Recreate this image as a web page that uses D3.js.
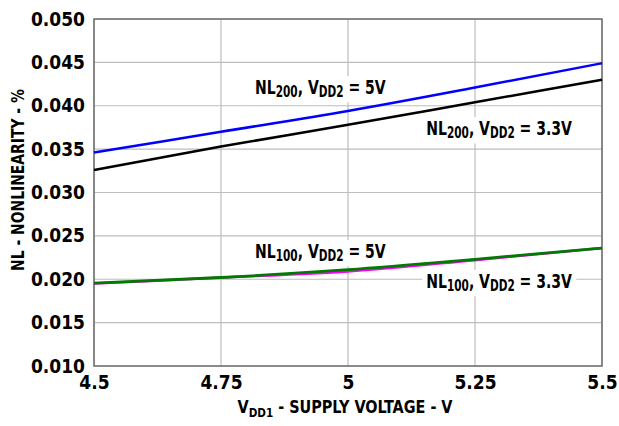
<!DOCTYPE html>
<html>
<head>
<meta charset="utf-8">
<script src="https://cdn.jsdelivr.net/npm/d3@7"></script>
<style>
  body { margin: 0; background: #fff; }
  text { font-family: 'DejaVu Sans Condensed', 'DejaVu Sans', sans-serif; font-weight: bold; fill: #000; }
</style>
</head>
<body>
<svg id="chart" width="619" height="426"></svg>
<script>
// supply voltage VDD1 (V)
const vdd1 = [4.5, 4.75, 5, 5.25, 5.5]
// nonlinearity (%)
const nl200_5v = [0.0346, 0.0370, 0.0394, 0.0421, 0.0449]
const nl200_33v = [0.0326, 0.0353, 0.0378, 0.0404, 0.0430]
const nl100_33v = [0.0195, 0.0202, 0.0209, 0.0222, 0.0236]
const nl100_5v = [0.01955, 0.0202, 0.0211, 0.0223, 0.0236]

const xTicks = [4.5, 4.75, 5, 5.25, 5.5]
const yTicks = [0.010, 0.015, 0.020, 0.025, 0.030, 0.035, 0.040, 0.045, 0.050]

const series = [
  { values: nl200_5v, color: "#0000ff", width: 2.5 },
  { values: nl200_33v, color: "#000000", width: 2.5 },
  { values: nl100_33v, color: "#ff00ff", width: 2.5 },
  { values: nl100_5v, color: "#007a00", width: 2.8 }
]

// curve labels, anchored at (x value, y value) = start of baseline
const labels = [
  { sub1: "200", tail: " = 5V", x: 4.817, y: 0.04135 },
  { sub1: "200", tail: " = 3.3V", x: 5.154, y: 0.03663 },
  { sub1: "100", tail: " = 5V", x: 4.817, y: 0.02245 },
  { sub1: "100", tail: " = 3.3V", x: 5.154, y: 0.0190 }
]

const margin = { top: 19, right: 17, bottom: 60, left: 94 }
const width = 619, height = 426
const innerW = width - margin.left - margin.right
const innerH = height - margin.top - margin.bottom

const svg = d3.select("#chart")
const g = svg.append("g").attr("transform", `translate(${margin.left},${margin.top})`)

const x = d3.scaleLinear().domain([4.5, 5.5]).range([0, innerW])
const y = d3.scaleLinear().domain([0.010, 0.050]).range([innerH, 0])

// grid
g.append("g").selectAll("line").data(xTicks).join("line")
  .attr("x1", d => x(d)).attr("x2", d => x(d))
  .attr("y1", 0).attr("y2", innerH)
  .attr("stroke", "#bdbdbd").attr("stroke-width", 1.2)
g.append("g").selectAll("line").data(yTicks).join("line")
  .attr("x1", 0).attr("x2", innerW)
  .attr("y1", d => y(d)).attr("y2", d => y(d))
  .attr("stroke", "#bdbdbd").attr("stroke-width", 1.2)

// frame
g.append("rect")
  .attr("width", innerW).attr("height", innerH)
  .attr("fill", "none").attr("stroke", "#6e6e6e").attr("stroke-width", 1.5)

const boxLayer = g.append("g")
const lineLayer = g.append("g")
const textLayer = g.append("g")

// lines
const line = d3.line().x((d, i) => x(vdd1[i])).y(d => y(d)).curve(d3.curveMonotoneX)
series.forEach(s => {
  lineLayer.append("path")
    .attr("d", line(s.values))
    .attr("fill", "none")
    .attr("stroke", s.color)
    .attr("stroke-width", s.width)
})

// labels (horizontally condensed) with white boxes behind them
const squeeze = 0.78
labels.forEach(l => {
  const tf = `translate(${x(l.x)},${y(l.y)}) scale(${squeeze},1)`
  const tg = textLayer.append("g").attr("transform", tf)
  const t = tg.append("text").attr("font-size", 20)
  t.append("tspan").text("NL")
  t.append("tspan").attr("font-size", 15).attr("dy", 3).text(l.sub1)
  t.append("tspan").attr("dy", -3).text(", V")
  t.append("tspan").attr("font-size", 15).attr("dy", 3).text("DD2")
  t.append("tspan").attr("dy", -3).text(l.tail)
  const b = t.node().getBBox()
  boxLayer.append("g").attr("transform", tf).append("rect")
    .attr("x", b.x - 5).attr("y", b.y + 1)
    .attr("width", b.width + 10).attr("height", b.height + 1)
    .attr("fill", "#fff")
})

// axes tick labels
const xAxis = d3.axisBottom(x).tickValues(xTicks).tickSize(0).tickPadding(10)
  .tickFormat(d => String(d))
g.append("g").attr("transform", `translate(0,${innerH})`).call(xAxis)
  .call(a => a.select(".domain").remove())
  .selectAll("text").attr("font-size", 19).attr("font-family", null)

const yAxis = d3.axisLeft(y).tickValues(yTicks).tickSize(0).tickPadding(9)
  .tickFormat(d3.format(".3f"))
g.append("g").call(yAxis)
  .call(a => a.select(".domain").remove())
  .selectAll("text").attr("font-size", 19).attr("font-family", null)

// axis titles
const xt = svg.append("g")
  .attr("transform", `translate(345,413) scale(0.89,1)`)
  .append("text").attr("text-anchor", "middle").attr("font-size", 18)
xt.append("tspan").text("V")
xt.append("tspan").attr("font-size", 13).attr("dy", 4).text("DD1")
xt.append("tspan").attr("dy", -4).text(" - SUPPLY VOLTAGE - V")

svg.append("g")
  .attr("transform", `translate(24,180) rotate(-90) scale(0.86,1)`)
  .append("text").attr("text-anchor", "middle").attr("font-size", 18)
  .text("NL - NONLINEARITY - %")
</script>
</body>
</html>
